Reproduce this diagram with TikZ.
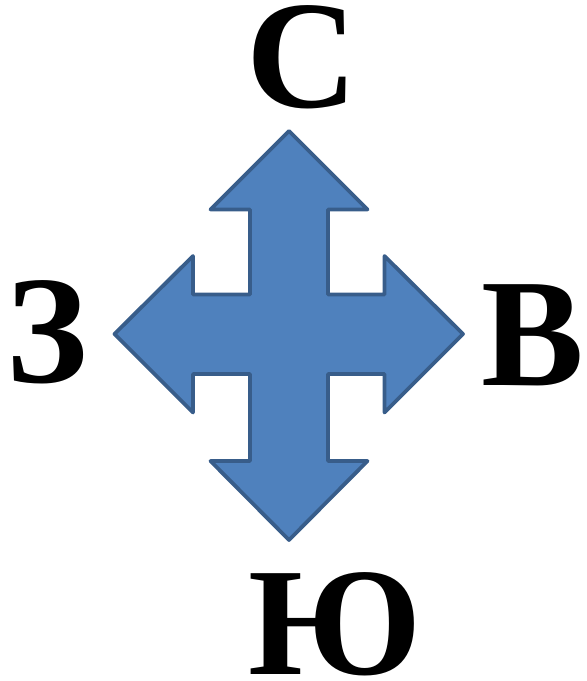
\documentclass[tikz,border=0pt]{standalone}
\usepackage{fontspec}
\setmainfont{Liberation Serif}
\usepackage{tikz}
\usetikzlibrary{calc}
\usepackage{xcolor}
\definecolor{arrowFill}{RGB}{79, 129, 189}
\definecolor{arrowEdge}{RGB}{56, 93, 138}

\begin{document}
\begin{tikzpicture}[
  x=1pt, y=-1pt,
  cross/.style={fill=arrowFill, draw=arrowEdge, line width=3.8pt, line join=round},
  side/.style={anchor=base, inner sep=0pt, font=\fontsize{154}{154}\selectfont\bfseries}
]
  \useasboundingbox (0,0) rectangle (587,681);

  % ── четырёхсторонняя стрелка ──
  \draw[cross]
    (289,131) -- (367.5,209.5) -- (328,209.5) -- (328,294.5)
    -- (384.5,294.5) -- (384.5,256) -- (463,334) -- (384.5,412.5)
    -- (384.5,374) -- (328,374) -- (328,461) -- (367.5,461)
    -- (289,540) -- (210.5,461) -- (250,461) -- (250,374)
    -- (193,374) -- (193,412.5) -- (114.5,334) -- (193,256)
    -- (193,294.5) -- (250,294.5) -- (250,209.5) -- (210.5,209.5) -- cycle;

  % ── стороны света ──
  \node[side] (north) at (302,107) {С};
  \node[side] (west)  at (46.7,382) {З};
  \node[side] (east)  at (533,385) {В};
  \node[side] (south) at (335,674) {Ю};
\end{tikzpicture}
\end{document}
